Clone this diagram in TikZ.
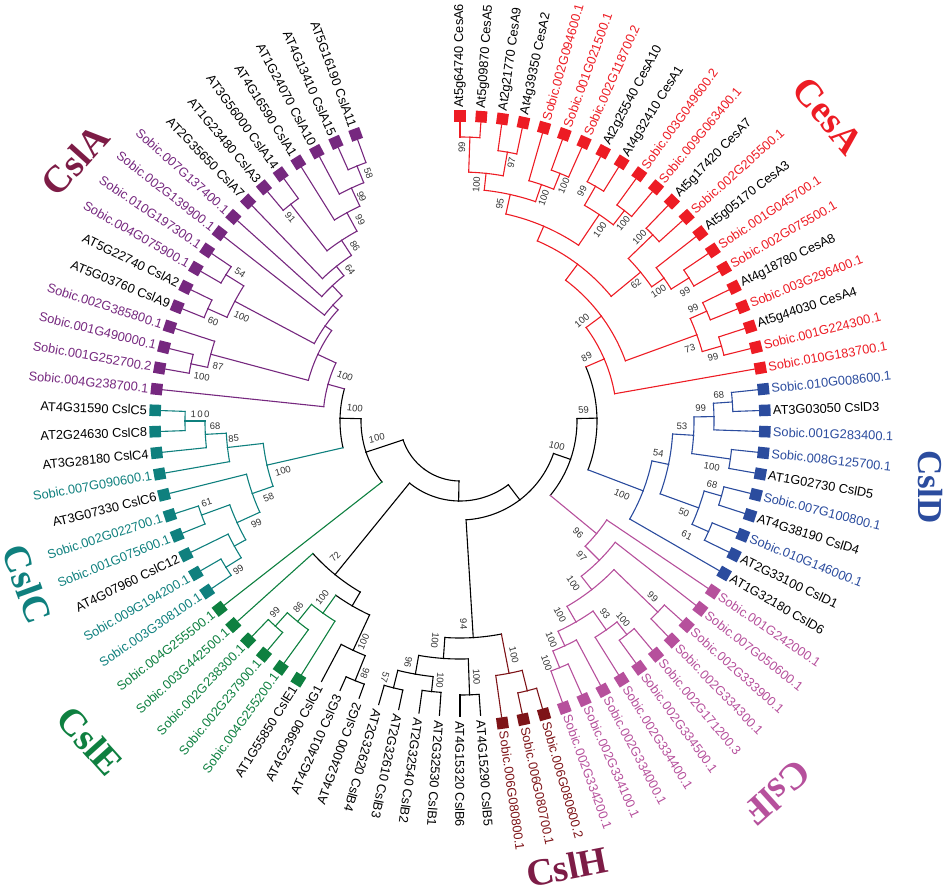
\documentclass[tikz,border=0pt]{standalone}
\usepackage{fontspec}
\setmainfont{Liberation Sans}
\newfontfamily\grpfont{Liberation Serif}
\definecolor{cesa}{HTML}{ED1C24}
\definecolor{csld}{HTML}{2B4C9E}
\definecolor{cslf}{HTML}{B6509C}
\definecolor{cslh}{HTML}{7E1418}
\definecolor{csle}{HTML}{0E8040}
\definecolor{cslc}{HTML}{0F807E}
\definecolor{csla}{HTML}{76287F}
\definecolor{grpa}{HTML}{7D1C46}
\tikzset{
  branch/.style={line width=1.1pt, line cap=rect},
  leaftext/.style={font=\fontsize{12.8}{14}\selectfont, inner sep=0pt},
  bstext/.style={font=\fontsize{9.5}{10}\selectfont, inner sep=0pt, text=black!80},
  grp/.style={font=\grpfont\bfseries\fontsize{38}{40}\selectfont, inner sep=0pt},
}
\newcommand\tleaf[6]{%
  \pgfmathsetmacro\la{90-4*#1}%
  \expandafter\xdef\csname pa@#2\endcsname{\la}%
  \expandafter\xdef\csname pc@#2\endcsname{#5}%
  \if m#6%
    \expandafter\gdef\csname pr@#2\endcsname{299}\def\lr{313}%
    \node[fill=#5, minimum size=11.5pt, inner sep=0pt, rotate=\la] (m#2) at (\la:305pt) {};%
  \else
    \expandafter\gdef\csname pr@#2\endcsname{295}\def\lr{300}%
  \fi
  \ifnum#1<50\relax
    \node[leaftext, text=#4, rotate=\la, anchor=west] (t#2) at (\la:\lr pt) {#3};%
  \else
    \pgfmathsetmacro\lb{\la+180}%
    \node[leaftext, text=#4, rotate=\lb, anchor=east] (t#2) at (\la:\lr pt) {#3};%
  \fi}
\newcommand\tedge[2]{%
  \edef\PA{\csname pa@#1\endcsname}\edef\PR{\csname pr@#1\endcsname}\edef\PC{\csname pc@#1\endcsname}%
  \edef\CA{\csname pa@#2\endcsname}\edef\CR{\csname pr@#2\endcsname}\edef\CC{\csname pc@#2\endcsname}%
  \draw[branch, draw=\PC] (\PA:\PR pt) arc[start angle=\PA, end angle=\CA, radius=\PR pt];%
  \draw[branch, draw=\CC] (\CA:\PR pt) -- (\CA:\CR pt);}
\newcommand\tnode[5]{%
  \edef\ta{\csname pa@#2\endcsname}\edef\tb{\csname pa@#3\endcsname}%
  \pgfmathsetmacro\na{(\ta+\tb)/2}%
  \expandafter\xdef\csname pa@#1\endcsname{\na}%
  \expandafter\gdef\csname pr@#1\endcsname{#4}%
  \expandafter\gdef\csname pc@#1\endcsname{#5}%
  \tedge{#1}{#2}\tedge{#1}{#3}}
\newcommand\tboot[3]{%
  \pgfmathparse{ifthenelse(and(#1>-108,#1<100),#1,#1+180)}\let\brot\pgfmathresult
  \node[bstext, rotate=\brot] at (#1:#2pt) {#3};}
\begin{document}
\begin{tikzpicture}[x=1pt,y=1pt]
\useasboundingbox (-460,-466) rectangle (492,421);
% ---------- leaves ----------
\tleaf{0}{l0}{At5g64740 CesA6}{black}{cesa}{m}
\tleaf{1}{l1}{At5g09870 CesA5}{black}{cesa}{m}
\tleaf{2}{l2}{At2g21770 CesA9}{black}{cesa}{m}
\tleaf{3}{l3}{At4g39350 CesA2}{black}{cesa}{m}
\tleaf{4}{l4}{Sobic.002G094600.1}{cesa}{cesa}{m}
\tleaf{5}{l5}{Sobic.001G021500.1}{cesa}{cesa}{m}
\tleaf{6}{l6}{Sobic.002G118700.2}{cesa}{cesa}{m}
\tleaf{7}{l7}{At2g25540 CesA10}{black}{cesa}{m}
\tleaf{8}{l8}{At4g32410 CesA1}{black}{cesa}{m}
\tleaf{9}{l9}{Sobic.003G049600.2}{cesa}{cesa}{m}
\tleaf{10}{l10}{Sobic.009G063400.1}{cesa}{cesa}{m}
\tleaf{11}{l11}{At5g17420 CesA7}{black}{cesa}{m}
\tleaf{12}{l12}{Sobic.002G205500.1}{cesa}{cesa}{m}
\tleaf{13}{l13}{At5g05170 CesA3}{black}{cesa}{m}
\tleaf{14}{l14}{Sobic.001G045700.1}{cesa}{cesa}{m}
\tleaf{15}{l15}{Sobic.002G075500.1}{cesa}{cesa}{m}
\tleaf{16}{l16}{At4g18780 CesA8}{black}{cesa}{m}
\tleaf{17}{l17}{Sobic.003G296400.1}{cesa}{cesa}{m}
\tleaf{18}{l18}{At5g44030 CesA4}{black}{cesa}{m}
\tleaf{19}{l19}{Sobic.001G224300.1}{cesa}{cesa}{m}
\tleaf{20}{l20}{Sobic.010G183700.1}{cesa}{cesa}{m}
\tleaf{21}{l21}{Sobic.010G008600.1}{csld}{csld}{m}
\tleaf{22}{l22}{AT3G03050 CslD3}{black}{csld}{m}
\tleaf{23}{l23}{Sobic.001G283400.1}{csld}{csld}{m}
\tleaf{24}{l24}{Sobic.008G125700.1}{csld}{csld}{m}
\tleaf{25}{l25}{AT1G02730 CslD5}{black}{csld}{m}
\tleaf{26}{l26}{Sobic.007G100800.1}{csld}{csld}{m}
\tleaf{27}{l27}{AT4G38190 CslD4}{black}{csld}{m}
\tleaf{28}{l28}{Sobic.010G146000.1}{csld}{csld}{m}
\tleaf{29}{l29}{AT2G33100 CslD1}{black}{csld}{m}
\tleaf{30}{l30}{AT1G32180 CslD6}{black}{csld}{m}
\tleaf{31}{l31}{Sobic.001G242000.1}{cslf}{cslf}{m}
\tleaf{32}{l32}{Sobic.007G050600.1}{cslf}{cslf}{m}
\tleaf{33}{l33}{Sobic.002G333900.1}{cslf}{cslf}{m}
\tleaf{34}{l34}{Sobic.002G334300.1}{cslf}{cslf}{m}
\tleaf{35}{l35}{Sobic.002G171200.3}{cslf}{cslf}{m}
\tleaf{36}{l36}{Sobic.002G334500.1}{cslf}{cslf}{m}
\tleaf{37}{l37}{Sobic.002G334400.1}{cslf}{cslf}{m}
\tleaf{38}{l38}{Sobic.002G334000.1}{cslf}{cslf}{m}
\tleaf{39}{l39}{Sobic.002G334100.1}{cslf}{cslf}{m}
\tleaf{40}{l40}{Sobic.002G334200.1}{cslf}{cslf}{m}
\tleaf{41}{l41}{Sobic.006G080600.2}{cslh}{cslh}{m}
\tleaf{42}{l42}{Sobic.006G080700.1}{cslh}{cslh}{m}
\tleaf{43}{l43}{Sobic.006G080800.1}{cslh}{cslh}{m}
\tleaf{44}{l44}{AT4G15290 CslB5}{black}{black}{n}
\tleaf{45}{l45}{AT4G15320 CslB6}{black}{black}{n}
\tleaf{46}{l46}{AT2G32530 CslB1}{black}{black}{n}
\tleaf{47}{l47}{AT2G32540 CslB2}{black}{black}{n}
\tleaf{48}{l48}{AT2G32610 CslB3}{black}{black}{n}
\tleaf{49}{l49}{AT2G32620 CslB4}{black}{black}{n}
\tleaf{50}{l50}{AT4G24000 CslG2}{black}{black}{n}
\tleaf{51}{l51}{AT4G24010 CslG3}{black}{black}{n}
\tleaf{52}{l52}{AT4G23990 CslG1}{black}{black}{n}
\tleaf{53}{l53}{AT1G55850 CslE1}{black}{csle}{m}
\tleaf{54}{l54}{Sobic.004G255200.1}{csle}{csle}{m}
\tleaf{55}{l55}{Sobic.002G237900.1}{csle}{csle}{m}
\tleaf{56}{l56}{Sobic.002G238300.1}{csle}{csle}{m}
\tleaf{57}{l57}{Sobic.003G442500.1}{csle}{csle}{m}
\tleaf{58}{l58}{Sobic.004G255500.1}{csle}{csle}{m}
\tleaf{59}{l59}{Sobic.003G308100.1}{cslc}{cslc}{m}
\tleaf{60}{l60}{Sobic.009G194200.1}{cslc}{cslc}{m}
\tleaf{61}{l61}{AT4G07960 CslC12}{black}{cslc}{m}
\tleaf{62}{l62}{Sobic.001G075600.1}{cslc}{cslc}{m}
\tleaf{63}{l63}{Sobic.002G022700.1}{cslc}{cslc}{m}
\tleaf{64}{l64}{AT3G07330 CslC6}{black}{cslc}{m}
\tleaf{65}{l65}{Sobic.007G090600.1}{cslc}{cslc}{m}
\tleaf{66}{l66}{AT3G28180 CslC4}{black}{cslc}{m}
\tleaf{67}{l67}{AT2G24630 CslC8}{black}{cslc}{m}
\tleaf{68}{l68}{AT4G31590 CslC5}{black}{cslc}{m}
\tleaf{69}{l69}{Sobic.004G238700.1}{csla}{csla}{m}
\tleaf{70}{l70}{Sobic.001G252700.2}{csla}{csla}{m}
\tleaf{71}{l71}{Sobic.001G490000.1}{csla}{csla}{m}
\tleaf{72}{l72}{Sobic.002G385800.1}{csla}{csla}{m}
\tleaf{73}{l73}{AT5G03760 CslA9}{black}{csla}{m}
\tleaf{74}{l74}{AT5G22740 CslA2}{black}{csla}{m}
\tleaf{75}{l75}{Sobic.004G075900.1}{csla}{csla}{m}
\tleaf{76}{l76}{Sobic.010G197300.1}{csla}{csla}{m}
\tleaf{77}{l77}{Sobic.002G139900.1}{csla}{csla}{m}
\tleaf{78}{l78}{Sobic.007G137400.1}{csla}{csla}{m}
\tleaf{79}{l79}{AT2G35650 CslA7}{black}{csla}{m}
\tleaf{80}{l80}{AT1G23480 CslA3}{black}{csla}{m}
\tleaf{81}{l81}{AT3G56000 CslA14}{black}{csla}{m}
\tleaf{82}{l82}{AT4G16590 CslA1}{black}{csla}{m}
\tleaf{83}{l83}{AT1G24070 CslA10}{black}{csla}{m}
\tleaf{84}{l84}{AT4G13410 CslA15}{black}{csla}{m}
\tleaf{85}{l85}{AT5G16190 CslA11}{black}{csla}{m}
% ---------- CesA ----------
\tnode{a01}{l0}{l1}{284}{cesa}
\tnode{a23}{l2}{l3}{273}{cesa}
\tnode{a03}{a01}{a23}{249}{cesa}
\tnode{a56}{l5}{l6}{267}{cesa}
\tnode{a46}{l4}{a56}{250}{cesa}
\tnode{a06}{a03}{a46}{232}{cesa}
\tnode{a78}{l7}{l8}{271}{cesa}
\tnode{a910}{l9}{l10}{267}{cesa}
\tnode{a710}{a78}{a910}{249}{cesa}
\tnode{aY}{a06}{a710}{212}{cesa}
\tnode{a1112}{l11}{l12}{268}{cesa}
\tnode{a1415}{l14}{l15}{270}{cesa}
\tnode{a1315}{l13}{a1415}{249}{cesa}
\tnode{a62}{a1112}{a1315}{234}{cesa}
\tnode{aBig}{aY}{a62}{196}{cesa}
\tnode{a1617}{l16}{l17}{270}{cesa}
\tnode{a1819}{l18}{l19}{272}{cesa}
\tnode{a73}{a1617}{a1819}{252}{cesa}
\tnode{aC1}{aBig}{a73}{176}{cesa}
\tnode{aC0}{aC1}{l20}{157}{cesa}
% ---------- CslD ----------
\tnode{d68}{l21}{l22}{273}{csld}
\tnode{d99}{d68}{l23}{254}{csld}
\tnode{d100}{l24}{l25}{273}{csld}
\tnode{d53}{d99}{d100}{234}{csld}
\tnode{d68b}{l26}{l27}{272}{csld}
\tnode{d61}{l28}{l29}{272}{csld}
\tnode{d50}{d68b}{d61}{254}{csld}
\tnode{d54}{d53}{d50}{213}{csld}
\tnode{dD0}{d54}{l30}{196}{csld}
\tnode{nV}{aC0}{dD0}{137}{black}
% ---------- CslF ----------
\tnode{f99}{l33}{l34}{275}{cslf}
\tnode{f100a}{l35}{l36}{271}{cslf}
\tnode{f93}{f100a}{l37}{255}{cslf}
\tnode{f100b}{l39}{l40}{266}{cslf}
\tnode{f100c}{l38}{f100b}{248}{cslf}
\tnode{fF3}{f93}{f100c}{232}{cslf}
\tnode{fF2}{f99}{fF3}{214}{cslf}
\tnode{fF1}{l32}{fF2}{197}{cslf}
\tnode{fF0}{l31}{fF1}{177}{cslf}
\tnode{nW}{nV}{fF0}{117}{black}
% ---------- CslH / CslB ----------
\tnode{h1}{l41}{l42}{278}{cslh}
\tnode{hH0}{h1}{l43}{257}{cslh}
\tnode{b100}{l44}{l45}{274}{black}
\tnode{b4647}{l46}{l47}{272}{black}
\tnode{b57}{l48}{l49}{275}{black}
\tnode{bB1}{b4647}{b57}{257}{black}
\tnode{bBg}{b100}{bB1}{238}{black}
\tnode{bB0}{bBg}{hH0}{217}{black}
\tnode{nZ}{bB0}{nW}{99}{black}
% ---------- CslG / CslE ----------
\tnode{g86}{l50}{l51}{280}{black}
\tnode{g100}{g86}{l52}{253}{black}
\tnode{e99}{l55}{l56}{276}{csle}
\tnode{e86}{l54}{e99}{258}{csle}
\tnode{e100}{l53}{e86}{236}{csle}
\tnode{gGp}{g100}{e100}{214}{black}
\tnode{gG0}{gGp}{l57}{198}{black}
\tnode{nY}{gG0}{nZ}{80}{black}
% ---------- CslC ----------
\tnode{c100}{l67}{l68}{275}{cslc}
\tnode{c68}{c100}{l66}{255}{cslc}
\tnode{c85}{c68}{l65}{234}{cslc}
\tnode{c61}{l62}{l63}{275}{cslc}
\tnode{c99b}{l59}{l60}{276}{cslc}
\tnode{cX}{l61}{c99b}{258}{cslc}
\tnode{c99}{c61}{cX}{245}{cslc}
\tnode{c58}{l64}{c99}{220}{cslc}
\tnode{cC0}{c85}{c58}{198}{cslc}
% ---------- CslA ----------
\tnode{A58}{l84}{l85}{275}{csla}
\tnode{A99a}{A58}{l83}{257}{csla}
\tnode{A99b}{A99a}{l82}{237}{csla}
\tnode{A91}{l80}{l81}{275}{csla}
\tnode{A86}{A99b}{A91}{216}{csla}
\tnode{A64}{A86}{l79}{198}{csla}
\tnode{A3}{A64}{l78}{186}{csla}
\tnode{A4}{A3}{l77}{172}{csla}
\tnode{A60}{l73}{l74}{276}{csla}
\tnode{A54}{l75}{l76}{276}{csla}
\tnode{A100}{A60}{A54}{255}{csla}
\tnode{A100b}{l70}{l71}{275}{csla}
\tnode{A87}{A100b}{l72}{258}{csla}
\tnode{A6}{A100}{A4}{165}{csla}
\tnode{A1}{A87}{A6}{157}{csla}
\tnode{A0}{l69}{A1}{137}{csla}
\tnode{nAC}{A0}{cC0}{120}{black}
\tnode{nP}{nAC}{l58}{99}{black}
\tnode{nX}{nP}{nY}{60}{black}
% ---------- bootstrap values ----------
\tboot{89.6}{274}{99}
\tboot{78.7}{263}{97}
\tboot{86}{237}{100}
\tboot{66.2}{257}{100}
\tboot{69.4}{238}{100}
\tboot{79.6}{221}{95}
\tboot{62}{260}{99}
\tboot{50.4}{256}{100}
\tboot{53.8}{237}{100}
\tboot{45.7}{257}{100}
\tboot{37.9}{223}{62}
\tboot{33.1}{237}{100}
\tboot{29.9}{259.5}{99}
\tboot{25.8}{259}{99}
\tboot{17.5}{241}{73}
\tboot{14.2}{261}{99}
\tboot{39.5}{158}{100}
\tboot{26.9}{142}{89}
\tboot{5.1}{124}{59}
\tboot{-14.4}{100}{100}
\tboot{5.7}{260}{68}
\tboot{3}{241}{99}
\tboot{-1.3}{222}{53}
\tboot{-9.2}{201}{54}
\tboot{-10.3}{256}{100}
\tboot{-14.2}{260}{68}
\tboot{-22.3}{242}{50}
\tboot{-26.7}{254}{61}
\tboot{-24.5}{178}{100}
\tboot{-43.5}{163}{96}
\tboot{-48.1}{182}{97}
\tboot{-55.1}{198}{100}
\tboot{-42.4}{261}{99}
\tboot{-62.7}{218}{100}
\tboot{-53}{241}{93}
\tboot{-50.6}{257}{100}
\tboot{-67.3}{237}{100}
\tboot{-70.3}{257}{100}
\tboot{-77}{240}{100}
\tboot{-89}{203}{94}
\tboot{-96.5}{221}{100}
\tboot{-86.3}{256.5}{100}
\tboot{-94.4}{260}{100}
\tboot{-102.1}{246.5}{96}
\tboot{-106.3}{267}{57}
\tboot{-110.6}{270}{86}
\tboot{-113.6}{241}{100}
\tboot{-128}{224}{100}
\tboot{-131}{246.5}{86}
\tboot{-134.1}{266}{99}
\tboot{-132.6}{184.5}{72}
\tboot{-181.5}{260}{1\,0\,0}
\tboot{-178.8}{245}{68}
\tboot{-175.6}{227}{85}
\tboot{-164.2}{184}{100}
\tboot{-158.3}{206}{58}
\tboot{-162.2}{266}{61}
\tboot{-153.3}{228}{99}
\tboot{-146.1}{267}{99}
\tboot{-249.7}{264}{58}
\tboot{-246.3}{245}{99}
\tboot{-243.6}{224.5}{99}
\tboot{-239}{204}{86}
\tboot{-234}{187}{64}
\tboot{-230.2}{265}{91}
\tboot{-213.9}{265}{54}
\tboot{-205.5}{242}{100}
\tboot{-201.9}{266}{60}
\tboot{-192.7}{248}{87}
\tboot{-189.7}{262}{100}
\tboot{-201.4}{123.5}{100}
\tboot{-187}{106}{100}
\tboot{-168.3}{85}{100}
% ---------- group labels ----------
\node[grp, text=cesa, rotate=-50] (gCesA) at (368,305) {CesA};
\node[grp, text=grpa, rotate=48] (gCslA) at (-385,261) {CslA};
\node[grp, text=csld, rotate=-90, font=\grpfont\bfseries\fontsize{35}{37}\selectfont] (gCslD) at (470,-66) {CslD};
\node[grp, text=cslf, rotate=-138] (gCslF) at (317,-372) {CslF};
\node[grp, text=grpa, rotate=11] (gCslH) at (107,-446) {CslH};
\node[grp, text=csle, rotate=-48] (gCslE) at (-370,-320) {CslE};
\node[grp, text=cslc, rotate=-70] (gCslC) at (-433,-163) {CslC};
\end{tikzpicture}
\end{document}
